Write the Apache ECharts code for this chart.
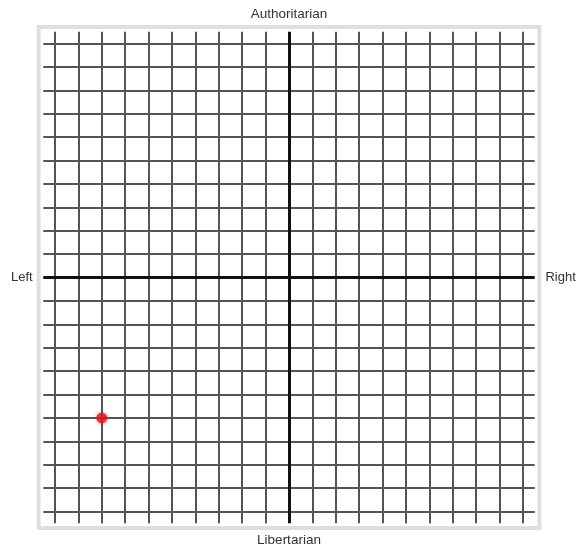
<!DOCTYPE html>
<html>
<head>
<meta charset="utf-8">
<script src="https://cdn.jsdelivr.net/npm/echarts@6/dist/echarts.min.js"></script>
<style>html,body{margin:0;padding:0;background:#fff}#c{width:577px;height:547px}</style>
</head>
<body>
<div id="c"></div>
<script>
// Data
const gridValues = [-10,-9,-8,-7,-6,-5,-4,-3,-2,-1,0,1,2,3,4,5,6,7,8,9,10];
const lineExtent = 10.5;
const axisExtent = 10.7;
const axisNames = { top: 'Authoritarian', bottom: 'Libertarian', left: 'Left', right: 'Right' };
const pointX = [-8];
const pointY = [-6];

const lines = [];
gridValues.forEach(v => {
  const center = v === 0;
  const style = center ? { color: '#111', width: 3, type: 'solid' } : { color: '#555', width: 2, type: 'solid' };
  lines.push([{ coord: [v, -lineExtent], lineStyle: style }, { coord: [v, lineExtent] }]);
  lines.push([{ coord: [-lineExtent, v], lineStyle: style }, { coord: [lineExtent, v] }]);
});
lines.sort((a, b) => (a[0].lineStyle.width - b[0].lineStyle.width));

const hidden = { axisLine: { show: false }, axisTick: { show: false }, axisLabel: { show: false }, splitLine: { show: false } };
const nameStyle = { color: '#333', fontSize: 13, fontFamily: 'Liberation Sans, Arial, sans-serif' };
const nameStyleV = { color: '#333', fontSize: 13.5, fontFamily: 'Liberation Sans, Arial, sans-serif' };

const chart = echarts.init(document.getElementById('c'), null, { renderer: 'canvas' });
chart.setOption({
  animation: false,
  backgroundColor: '#fff',
  grid: { left: 38.6, right: 37.6, top: 27.1, bottom: 19.1, outerBoundsMode: 'none', containLabel: false, show: true, borderColor: '#dedede', borderWidth: 4, backgroundColor: '#fff' },
  xAxis: [
    Object.assign({ type: 'value', min: -axisExtent, max: axisExtent, position: 'bottom', name: axisNames.bottom, nameLocation: 'middle', nameGap: 5, nameTextStyle: nameStyleV }, hidden),
    Object.assign({ type: 'value', min: -axisExtent, max: axisExtent, position: 'top', name: axisNames.top, nameLocation: 'middle', nameGap: 6, nameTextStyle: nameStyleV }, hidden)
  ],
  yAxis: [
    Object.assign({ type: 'value', min: -axisExtent, max: axisExtent, position: 'left', name: axisNames.left, nameLocation: 'middle', nameRotate: 0, nameGap: 6, nameTextStyle: nameStyle }, hidden),
    Object.assign({ type: 'value', min: -axisExtent, max: axisExtent, position: 'right', name: axisNames.right, nameLocation: 'middle', nameRotate: 0, nameGap: 6, nameTextStyle: nameStyle }, hidden)
  ],
  series: [
    {
      type: 'scatter',
      xAxisIndex: 0, yAxisIndex: 0,
      data: [],
      silent: true,
      markLine: { silent: true, symbol: 'none', animation: false, label: { show: false }, emphasis: { disabled: true }, data: lines }
    },
    {
      type: 'scatter',
      xAxisIndex: 0, yAxisIndex: 0,
      z: 10,
      symbolSize: 11,
      itemStyle: { color: '#e3131b', shadowBlur: 4, shadowColor: 'rgba(227,19,27,0.5)' },
      data: pointX.map((x, i) => [x, pointY[i]])
    }
  ]
});
</script>
</body>
</html>
